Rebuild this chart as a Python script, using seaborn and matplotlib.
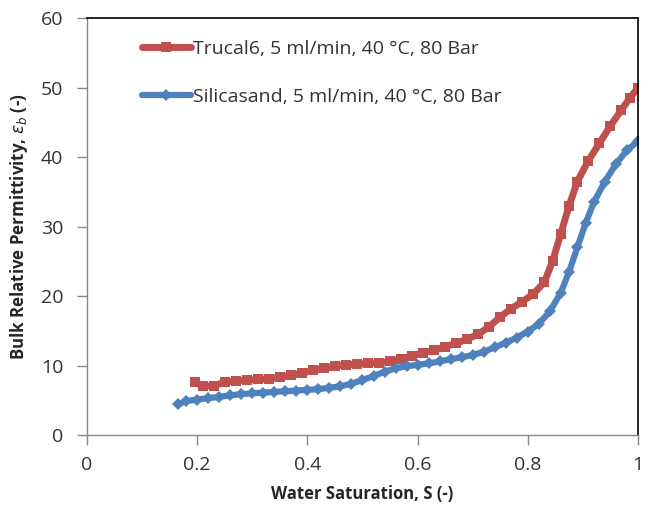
import numpy as np
import pandas as pd
import matplotlib
matplotlib.use("Agg")
import matplotlib.pyplot as plt
import seaborn as sns

trucal_s = [0.196, 0.21, 0.23, 0.25, 0.27, 0.29, 0.31, 0.33, 0.35, 0.37, 0.39, 0.41, 0.43,
            0.45, 0.47, 0.49, 0.51, 0.53, 0.55, 0.57, 0.59, 0.61, 0.63, 0.65, 0.67, 0.69,
            0.71, 0.73, 0.75, 0.77, 0.79, 0.81, 0.83, 0.845, 0.86, 0.875, 0.89, 0.91,
            0.93, 0.95, 0.97, 0.985, 1.0]
trucal_e = [7.6, 7.0, 7.1, 7.6, 7.8, 7.9, 8.0, 8.1, 8.3, 8.6, 8.9, 9.3, 9.6,
            9.9, 10.1, 10.2, 10.3, 10.4, 10.6, 11.0, 11.4, 11.8, 12.2, 12.7, 13.2, 13.8,
            14.5, 15.6, 17.0, 18.2, 19.2, 20.3, 22.0, 25.0, 29.0, 33.0, 36.5, 39.5,
            42.0, 44.5, 46.8, 48.5, 50.0]

silica_s = [0.165, 0.18, 0.20, 0.22, 0.24, 0.26, 0.28, 0.30, 0.32, 0.34, 0.36, 0.38, 0.40,
            0.42, 0.44, 0.46, 0.48, 0.50, 0.52, 0.54, 0.56, 0.58, 0.60, 0.62, 0.64, 0.66,
            0.68, 0.70, 0.72, 0.74, 0.76, 0.78, 0.80, 0.82, 0.84, 0.86, 0.875, 0.89,
            0.905, 0.92, 0.94, 0.96, 0.98, 1.0]
silica_e = [4.4, 4.9, 5.1, 5.3, 5.5, 5.7, 5.9, 6.0, 6.1, 6.2, 6.3, 6.4, 6.5,
            6.6, 6.8, 7.0, 7.4, 7.9, 8.5, 9.1, 9.6, 9.9, 10.1, 10.3, 10.6, 10.9,
            11.2, 11.5, 12.0, 12.6, 13.3, 14.0, 14.9, 16.0, 17.8, 20.5, 23.5, 27.0,
            30.5, 33.5, 36.5, 39.0, 41.0, 42.3]

label_trucal = "Trucal6, 5 ml/min, 40 \u00b0C, 80 Bar"
label_silica = "Silicasand, 5 ml/min, 40 \u00b0C, 80 Bar"

sns.set_theme(style="white")
plt.rcParams['font.family'] = ['Open Sans', 'DejaVu Sans']

df_t = pd.DataFrame({"S": trucal_s, "E": trucal_e})
df_s = pd.DataFrame({"S": silica_s, "E": silica_e})

fig = plt.figure(figsize=(6.47, 5.08), dpi=100)
ax = fig.add_axes([0.1345, 0.1437, 0.8515, 0.8203])

red = "#C0504D"
blue = "#4F81BD"
sns.lineplot(data=df_t, x="S", y="E", ax=ax, color=red, linewidth=5,
             marker="s", markersize=6.5, markeredgewidth=0, label=label_trucal)
sns.lineplot(data=df_s, x="S", y="E", ax=ax, color=blue, linewidth=4.5,
             marker="D", markersize=6, markeredgewidth=0, label=label_silica)

ax.set_xlim(0, 1)
ax.set_ylim(0, 60)
ax.set_xticks([0, 0.2, 0.4, 0.6, 0.8, 1.0])
ax.set_xticklabels(["0", "0.2", "0.4", "0.6", "0.8", "1"])
ax.set_yticks(range(0, 61, 10))

gray = "#868686"
for side in ["left", "bottom"]:
    ax.spines[side].set_color(gray)
    ax.spines[side].set_linewidth(1.0)
for side in ["top", "right"]:
    ax.spines[side].set_color("black")
    ax.spines[side].set_linewidth(1.2)
ax.spines["top"].set_visible(True)
ax.spines["right"].set_visible(True)

ax.tick_params(axis="both", which="major", direction="out", length=7, width=1,
               color=gray, labelsize=14, labelcolor="#333333", bottom=True, left=True)
ax.tick_params(axis="x", pad=8)
ax.tick_params(axis="y", pad=10)

ax.set_xlabel("Water Saturation, S (-)", fontsize=12, fontweight="bold", labelpad=8)
ax.set_ylabel(r"Bulk Relative Permittivity, $\varepsilon_b$ (-)", fontsize=12.2,
              fontweight="bold", labelpad=8)

leg = ax.legend(loc="upper left", bbox_to_anchor=(0.068, 0.99), frameon=False,
                fontsize=14, handlelength=2.5, handletextpad=0.1, labelspacing=1.55)
for t in leg.get_texts():
    t.set_color("#333333")

fig.savefig("out.png", dpi=100)
